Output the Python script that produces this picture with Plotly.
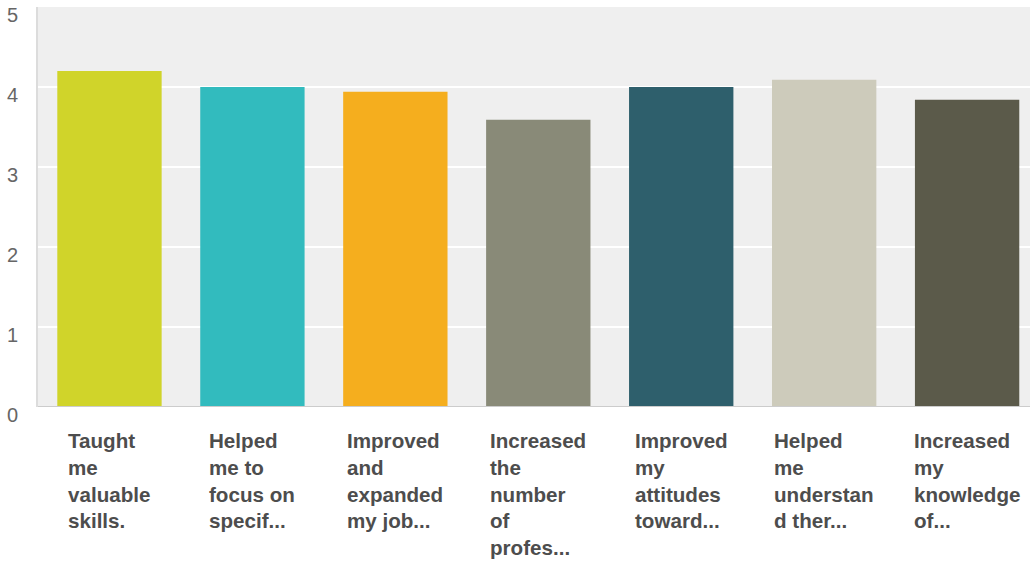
import plotly.graph_objects as go

# Survey statements (wrapped as they appear under each bar) and mean ratings
categories = [
    "Taught me valuable skills.",
    "Helped me to focus on specif...",
    "Improved and expanded my job...",
    "Increased the number of profes...",
    "Improved my attitudes toward...",
    "Helped me understand ther...",
    "Increased my knowledge of...",
]
label_lines = [
    ["Taught", "me", "valuable", "skills."],
    ["Helped", "me to", "focus on", "specif..."],
    ["Improved", "and", "expanded", "my job..."],
    ["Increased", "the", "number", "of", "profes..."],
    ["Improved", "my", "attitudes", "toward..."],
    ["Helped", "me", "understan", "d ther..."],
    ["Increased", "my", "knowledge", "of..."],
]
ratings = [4.2, 4.0, 3.94, 3.59, 4.0, 4.09, 3.84]
colors = ["#d0d42a", "#32bbbe", "#f5ae1e", "#898a78", "#2e5f6c", "#cdcbbb", "#5b5a4a"]
y_ticks = [0, 1, 2, 3, 4, 5]

fig = go.Figure(
    go.Bar(
        x=list(range(len(categories))),
        y=ratings,
        marker=dict(color=colors, line=dict(width=0)),
        hovertext=categories,
        hoverinfo="text+y",
    )
)

# Wrapped category labels drawn below the axis, lines left-aligned within a centred block
for i, lines in enumerate(label_lines):
    fig.add_annotation(
        x=i, y=0, xref="x", yref="paper",
        text="<br>".join(lines),
        showarrow=False,
        xanchor="center", yanchor="top", align="left",
        yshift=-20,
        font=dict(family="Liberation Sans, Arial", size=20.6, color="#4d4d4d", weight="bold"),
    )

fig.update_layout(
    width=1030, height=562,
    margin=dict(l=38, r=0, t=7, b=155),
    paper_bgcolor="white",
    plot_bgcolor="#efefef",
    bargap=0.27,
    showlegend=False,
    font=dict(family="Liberation Sans, Arial", color="#666666"),
    xaxis=dict(
        range=[-0.5, 6.44],
        showticklabels=False,
        showgrid=False,
        zeroline=False,
        showline=False,
        fixedrange=True,
    ),
    yaxis=dict(
        range=[0, 5],
        tickvals=y_ticks,
        ticktext=[str(v) for v in y_ticks],
        tickfont=dict(size=20, color="#666666"),
        ticklabelstandoff=14,
        ticklabelshift=8,
        showgrid=True,
        gridcolor="white",
        gridwidth=2,
        zeroline=False,
        showline=True,
        linecolor="#dcdcdc",
        linewidth=2,
        fixedrange=True,
    ),
    shapes=[
        dict(type="line", xref="paper", yref="y", x0=0, x1=1, y0=0, y1=0,
             line=dict(color="#cccccc", width=2)),
    ],
)

fig.write_html("out.html")
